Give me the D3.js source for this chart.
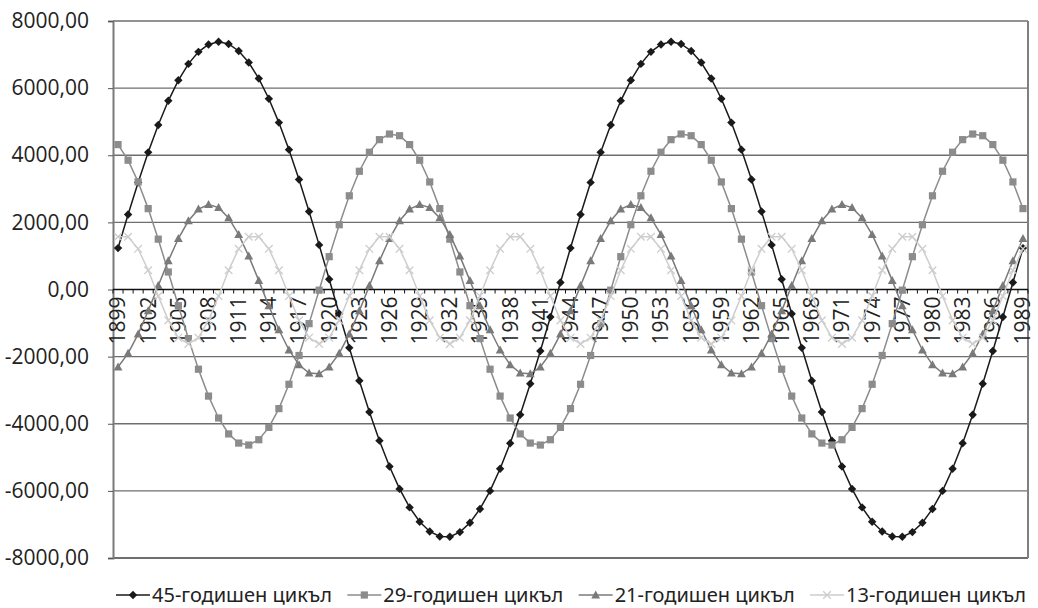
<!DOCTYPE html>
<html lang="bg">
<head>
<meta charset="utf-8">
<script src="https://cdn.jsdelivr.net/npm/d3@7"></script>
<style>
  body { margin: 0; background: #fff; }
  svg { display: block; font-family: "Open Sans", sans-serif; }
</style>
</head>
<body>
<svg id="chart"></svg>
<script>
// Години (категории)
const years = [
  1899, 1900, 1901, 1902, 1903, 1904, 1905, 1906, 1907, 1908,
  1909, 1910, 1911, 1912, 1913, 1914, 1915, 1916, 1917, 1918,
  1919, 1920, 1921, 1922, 1923, 1924, 1925, 1926, 1927, 1928,
  1929, 1930, 1931, 1932, 1933, 1934, 1935, 1936, 1937, 1938,
  1939, 1940, 1941, 1942, 1943, 1944, 1945, 1946, 1947, 1948,
  1949, 1950, 1951, 1952, 1953, 1954, 1955, 1956, 1957, 1958,
  1959, 1960, 1961, 1962, 1963, 1964, 1965, 1966, 1967, 1968,
  1969, 1970, 1971, 1972, 1973, 1974, 1975, 1976, 1977, 1978,
  1979, 1980, 1981, 1982, 1983, 1984, 1985, 1986, 1987, 1988,
  1989
];

// 45-годишен цикъл
const cycle45 = [
  1234, 2235, 3191, 4087, 4902, 5622, 6233, 6722, 7081, 7301,
  7380, 7315, 7107, 6762, 6285, 5684, 4973, 4167, 3278, 2326,
  1329, 306, -723, -1738, -2720, -3648, -4504, -5275, -5941, -6493,
  -6918, -7209, -7359, -7365, -7229, -6951, -6539, -6000, -5342, -4581,
  -3732, -2809, -1832, -819, 209,
  1234, 2235, 3191, 4087, 4902, 5622, 6233, 6722, 7081, 7301,
  7380, 7315, 7107, 6762, 6285, 5684, 4973, 4167, 3278, 2326,
  1329, 306, -723, -1738, -2720, -3648, -4504, -5275, -5941, -6493,
  -6918, -7209, -7359, -7365, -7229, -6951, -6539, -6000, -5342, -4581,
  -3732, -2809, -1832, -819, 209,
  1234
];

// 29-годишен цикъл
const cycle29 = [
  4318, 3852, 3205, 2410, 1500, 522, -482, -1463, -2375, -3176,
  -3829, -4303, -4576, -4634, -4476, -4109, -3549, -2824, -1966, -1017,
  -20, 978, 1930, 2792, 3523, 4090, 4465, 4632, 4582,
  4318, 3852, 3205, 2410, 1500, 522, -482, -1463, -2375, -3176,
  -3829, -4303, -4576, -4634, -4476, -4109, -3549, -2824, -1966, -1017,
  -20, 978, 1930, 2792, 3523, 4090, 4465, 4632, 4582,
  4318, 3852, 3205, 2410, 1500, 522, -482, -1463, -2375, -3176,
  -3829, -4303, -4576, -4634, -4476, -4109, -3549, -2824, -1966, -1017,
  -20, 978, 1930, 2792, 3523, 4090, 4465, 4632, 4582,
  4318, 3852, 3205, 2410
];

// 21-годишен цикъл
const cycle21 = [
  -2311, -1905, -1330, -636, 113, 853, 1518, 2047, 2394, 2529,
  2439, 2132, 1635, 994, 264, -489, -1199, -1802, -2245, -2489, -2512,
  -2311, -1905, -1330, -636, 113, 853, 1518, 2047, 2394, 2529,
  2439, 2132, 1635, 994, 264, -489, -1199, -1802, -2245, -2489, -2512,
  -2311, -1905, -1330, -636, 113, 853, 1518, 2047, 2394, 2529,
  2439, 2132, 1635, 994, 264, -489, -1199, -1802, -2245, -2489, -2512,
  -2311, -1905, -1330, -636, 113, 853, 1518, 2047, 2394, 2529,
  2439, 2132, 1635, 994, 264, -489, -1199, -1802, -2245, -2489, -2512,
  -2311, -1905, -1330, -636, 113, 853, 1518
];

// 13-годишен цикъл
const cycle13 = [
  1572, 1572, 1213, 574, -195, -920, -1435, -1620, -1435, -920, -195, 574, 1213,
  1572, 1572, 1213, 574, -195, -920, -1435, -1620, -1435, -920, -195, 574, 1213,
  1572, 1572, 1213, 574, -195, -920, -1435, -1620, -1435, -920, -195, 574, 1213,
  1572, 1572, 1213, 574, -195, -920, -1435, -1620, -1435, -920, -195, 574, 1213,
  1572, 1572, 1213, 574, -195, -920, -1435, -1620, -1435, -920, -195, 574, 1213,
  1572, 1572, 1213, 574, -195, -920, -1435, -1620, -1435, -920, -195, 574, 1213,
  1572, 1572, 1213, 574, -195, -920, -1435, -1620, -1435, -920, -195, 574, 1213
];

const seriesNames = ["45-годишен цикъл", "29-годишен цикъл", "21-годишен цикъл", "13-годишен цикъл"];
const yTicks = [-8000, -6000, -4000, -2000, 0, 2000, 4000, 6000, 8000];
const xLabelYears = [1899, 1902, 1905, 1908, 1911, 1914, 1917, 1920, 1923, 1926, 1929, 1932,
  1935, 1938, 1941, 1944, 1947, 1950, 1953, 1956, 1959, 1962, 1965, 1968, 1971, 1974,
  1977, 1980, 1983, 1986, 1989];

// Размери
const W = 1038, H = 608;
const plot = { left: 113, right: 1028, top: 21, bottom: 558 };

const svg = d3.select("#chart").attr("width", W).attr("height", H);

const x = d3.scaleBand().domain(years).range([plot.left, plot.right]);
const cx = d => x(d) + x.bandwidth() / 2;
const y = d3.scaleLinear().domain([-8000, 8000]).range([plot.bottom, plot.top]);

// Хоризонтални линии
svg.append("g")
  .selectAll("line")
  .data(yTicks.filter(d => d !== 0))
  .join("line")
  .attr("x1", plot.left).attr("x2", plot.right)
  .attr("y1", d => y(d)).attr("y2", d => y(d))
  .attr("stroke", "#6e6e6e")
  .attr("stroke-width", d => d === -8000 ? 2 : 1.3);

// Дясна рамка
svg.append("line")
  .attr("x1", plot.right).attr("x2", plot.right)
  .attr("y1", plot.top).attr("y2", plot.bottom)
  .attr("stroke", "#808080").attr("stroke-width", 2);

// Ос Y
const fmt = d => d3.format(".2f")(d).replace(".", ",").replace("−", "-");
const yAxis = svg.append("g")
  .attr("transform", `translate(${plot.left},0)`)
  .call(d3.axisLeft(y).tickValues(yTicks).tickSize(5).tickPadding(19).tickFormat(fmt));
yAxis.select(".domain").attr("stroke", "#7a7a7a").attr("stroke-width", 2);
yAxis.selectAll(".tick line").attr("stroke", "#555");
yAxis.selectAll(".tick text")
  .attr("font-size", 21)
  .attr("font-family", "Open Sans, sans-serif")
  .attr("fill", "#222");

// Ос X (при 0)
const x0 = y(0);
svg.append("line")
  .attr("x1", plot.left).attr("x2", plot.right)
  .attr("y1", x0).attr("y2", x0)
  .attr("stroke", "#111").attr("stroke-width", 1.3);

svg.append("g")
  .selectAll("line")
  .data(years.concat(["end"]))
  .join("line")
  .attr("x1", d => d === "end" ? plot.right : x(d))
  .attr("x2", d => d === "end" ? plot.right : x(d))
  .attr("y1", x0).attr("y2", x0 + 4)
  .attr("stroke", "#111");

const xAxis = svg.append("g")
  .attr("transform", `translate(0,${x0})`)
  .call(d3.axisBottom(x).tickValues(xLabelYears).tickSize(0));
xAxis.select(".domain").remove();
xAxis.selectAll(".tick text")
  .attr("transform", "rotate(-90)")
  .attr("x", -7).attr("y", 0).attr("dy", "0.35em")
  .attr("text-anchor", "end")
  .attr("font-size", 21)
  .attr("font-family", "Open Sans, sans-serif")
  .attr("fill", "#222");

// Маркери
const diamond = "M0,-4.2L4.2,0L0,4.2L-4.2,0Z";
const square = "M-3.6,-3.6H3.6V3.6H-3.6Z";
const triangle = "M0,-4.6L4.4,3.4H-4.4Z";
const cross = "M-3.8,-3.8L3.8,3.8M3.8,-3.8L-3.8,3.8";

const series = [
  { name: seriesNames[0], values: cycle45, color: "#1a1a1a", marker: diamond, stroke: false },
  { name: seriesNames[1], values: cycle29, color: "#8c8c8c", marker: square, stroke: false },
  { name: seriesNames[2], values: cycle21, color: "#7a7a7a", marker: triangle, stroke: false },
  { name: seriesNames[3], values: cycle13, color: "#cdcdcd", marker: cross, stroke: true }
];

const line = d3.line()
  .x((d, i) => cx(years[i]))
  .y(d => y(d));

series.forEach(s => {
  const g = svg.append("g");
  g.append("path")
    .datum(s.values)
    .attr("d", line)
    .attr("fill", "none")
    .attr("stroke", s.color)
    .attr("stroke-width", 1.5);
  g.selectAll("path.m")
    .data(s.values)
    .join("path")
    .attr("class", "m")
    .attr("transform", (d, i) => `translate(${cx(years[i])},${y(d)})`)
    .attr("d", s.marker)
    .attr("fill", s.stroke ? "none" : s.color)
    .attr("stroke", s.stroke ? s.color : "none")
    .attr("stroke-width", 1.3);
});

// Легенда: разпределена между 116 и 1026
const legendY = 595;
const legend = svg.append("g");
const items = series.map((s, i) => {
  const g = legend.append("g");
  g.append("line")
    .attr("x1", 0).attr("x2", 34)
    .attr("stroke", s.color).attr("stroke-width", 1.5);
  g.append("path")
    .attr("transform", "translate(17,0)")
    .attr("d", s.marker)
    .attr("fill", s.stroke ? "none" : s.color)
    .attr("stroke", s.stroke ? s.color : "none")
    .attr("stroke-width", 1.3);
  const t = g.append("text")
    .attr("x", 36).attr("y", 0).attr("dy", "0.35em")
    .attr("font-size", 20)
    .attr("font-family", "Noto Sans, Open Sans, sans-serif")
    .attr("fill", "#222")
    .text(s.name);
  return { g, w: 36 + t.node().getComputedTextLength() };
});
const totalW = d3.sum(items, d => d.w);
const gap = Math.max(6, (1026 - 116 - totalW) / 3);
let pos = 116;
items.forEach(it => {
  it.g.attr("transform", `translate(${pos},${legendY})`);
  pos += it.w + gap;
});
</script>
</body>
</html>
